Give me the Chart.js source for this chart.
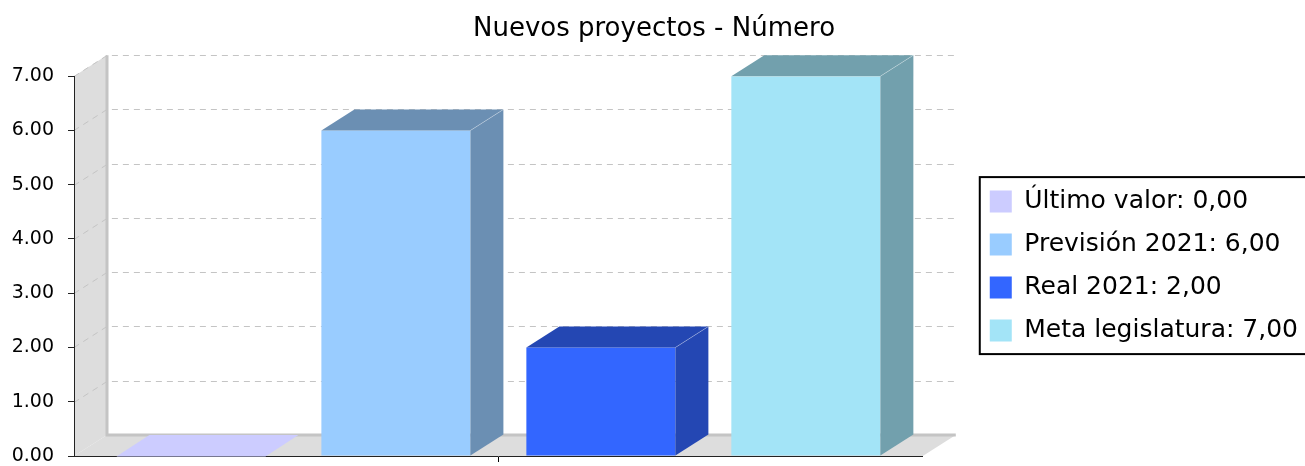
<!DOCTYPE html>
<html>
<head>
<meta charset="utf-8">
<script src="https://cdn.jsdelivr.net/npm/chart.js@4/dist/chart.umd.min.js"></script>
<style>
  html, body { margin: 0; padding: 0; background: #fff; }
  #caja { width: 1305px; height: 466px; }
</style>
</head>
<body>
<div id="caja"><canvas id="grafica"></canvas></div>
<script>
const titulo = "Nuevos proyectos - Número"
const categorias = [""]
const series = ["Último valor", "Previsión 2021", "Real 2021", "Meta legislatura"]
const valores = [0, 6, 2, 7]
const colores = ["#ccccff", "#99ccff", "#3366ff", "#a3e4f7"]
const ejeY = { min: 0, max: 7, paso: 1 }

// profundidad del efecto 3D
const dx = 33
const dy = 21

function oscurecer(hex, f) {
  let r = parseInt(hex.slice(1, 3), 16)
  let g = parseInt(hex.slice(3, 5), 16)
  let b = parseInt(hex.slice(5, 7), 16)
  return "rgb(" + Math.round(r * f) + "," + Math.round(g * f) + "," + Math.round(b * f) + ")"
}

function poligono(ctx, pts, color) {
  ctx.beginPath()
  ctx.moveTo(pts[0][0], pts[0][1])
  for (let i = 1; i < pts.length; i++) ctx.lineTo(pts[i][0], pts[i][1])
  ctx.closePath()
  ctx.fillStyle = color
  ctx.fill()
}

const efecto3d = {
  id: "efecto3d",
  beforeDraw(chart) {
    const ctx = chart.ctx
    const a = chart.chartArea
    const y = chart.scales.y
    const L = a.left, R = a.right, T = a.top, B = a.bottom
    ctx.save()
    // pared izquierda y suelo
    poligono(ctx, [[L, B], [L, T], [L + dx, T - dy], [L + dx, B - dy]], "#dddddd")
    poligono(ctx, [[L, B], [R, B], [R + dx, B - dy], [L + dx, B - dy]], "#dddddd")
    // rejilla punteada
    ctx.strokeStyle = "#c4c4c4"
    ctx.lineWidth = 1
    ctx.setLineDash([6, 5])
    y.ticks.forEach(t => {
      if (t.value === ejeY.min) return
      let py = Math.round(y.getPixelForValue(t.value)) + 0.5
      ctx.beginPath()
      ctx.moveTo(L, py)
      ctx.lineTo(L + dx, py - dy)
      ctx.lineTo(R + dx, py - dy)
      ctx.stroke()
    })
    ctx.setLineDash([])
    // bordes de las paredes
    ctx.strokeStyle = "#c4c4c4"
    ctx.lineWidth = 3
    ctx.beginPath()
    ctx.moveTo(L + dx, T - dy)
    ctx.lineTo(L + dx, B - dy)
    ctx.lineTo(R + dx, B - dy)
    ctx.stroke()
    ctx.restore()
  },
  afterDatasetsDraw(chart) {
    const ctx = chart.ctx
    ctx.save()
    chart.data.datasets.forEach((ds, i) => {
      const meta = chart.getDatasetMeta(i)
      meta.data.forEach(bar => {
        const p = bar.getProps(["x", "y", "base", "width"], true)
        const izq = p.x - p.width / 2
        const der = p.x + p.width / 2
        const arriba = Math.min(p.y, p.base)
        const abajo = Math.max(p.y, p.base)
        const base = ds.backgroundColor
        const sombra = oscurecer(base, 0.7)
        if (abajo - arriba < 1) {
          poligono(ctx, [[izq, abajo + 0.5], [der, abajo + 0.5], [der + dx, abajo - dy], [izq + dx, abajo - dy]], base)
          return
        }
        poligono(ctx, [[der, arriba], [der + dx, arriba - dy], [der + dx, abajo - dy], [der, abajo]], sombra)
        poligono(ctx, [[izq, arriba], [izq + dx, arriba - dy], [der + dx, arriba - dy], [der, arriba]], sombra)
        ctx.strokeStyle = "rgba(255,255,255,0.3)"
        ctx.lineWidth = 1
        ctx.beginPath()
        ctx.moveTo(der, arriba)
        ctx.lineTo(der + dx, arriba - dy)
        ctx.stroke()
      })
    })
    ctx.restore()
  },
  afterDraw(chart) {
    const cajas = chart.legend.legendHitBoxes
    if (!cajas || !cajas.length) return
    let x0 = Infinity, y0 = Infinity, x1 = -Infinity, y1 = -Infinity
    cajas.forEach(c => {
      x0 = Math.min(x0, c.left)
      y0 = Math.min(y0, c.top)
      x1 = Math.max(x1, c.left + c.width)
      y1 = Math.max(y1, c.top + c.height)
    })
    const ctx = chart.ctx
    ctx.save()
    ctx.strokeStyle = "#000"
    ctx.lineWidth = 2
    ctx.strokeRect(x0 - 10, y0 - 12, x1 - x0 + 30, y1 - y0 + 23)
    ctx.restore()
  }
}

const datasets = series.map((s, i) => ({
  label: s + ": " + valores[i].toFixed(2).replace(".", ","),
  data: [valores[i]],
  backgroundColor: colores[i],
  borderWidth: 0,
  categoryPercentage: 0.966,
  barPercentage: 0.727
}))

Chart.defaults.font.family = "'DejaVu Sans', sans-serif"
Chart.defaults.color = "#000"

new Chart(document.getElementById("grafica"), {
  type: "bar",
  data: { labels: categorias, datasets: datasets },
  options: {
    responsive: true,
    maintainAspectRatio: false,
    animation: false,
    layout: { padding: { left: 0, right: -3, top: 0, bottom: 4 } },
    plugins: {
      title: {
        display: true,
        text: titulo,
        color: "#000",
        font: { size: 26, weight: "normal" },
        padding: { top: 14, bottom: 31 }
      },
      legend: {
        position: "right",
        fullSize: false,
        maxWidth: 400,
        labels: {
          boxWidth: 22,
          boxHeight: 22,
          padding: 18,
          color: "#000",
          font: { size: 25 }
        }
      },
      tooltip: { enabled: false }
    },
    scales: {
      x: {
        offset: true,
        grid: { display: true, offset: false, drawOnChartArea: false, drawTicks: true, tickLength: 6, color: "#000" },
        border: { display: true, color: "#222", width: 1 },
        ticks: { display: false }
      },
      y: {
        min: ejeY.min,
        max: ejeY.max,
        grid: { drawOnChartArea: false, drawTicks: true, tickLength: 6, color: "#222" },
        border: { display: true, color: "#222", width: 1 },
        ticks: {
          stepSize: ejeY.paso,
          padding: 14,
          color: "#000",
          font: { size: 19 },
          callback: v => v.toFixed(2)
        },
        afterFit(s) {
          s.width = 74
          s.paddingTop = 0
          s.paddingBottom = 8
        }
      },
      relleno: {
        position: "right",
        display: true,
        grid: { display: false },
        border: { display: false },
        ticks: { display: false },
        afterFit(s) { s.width = 49 }
      }
    }
  },
  plugins: [efecto3d]
})
</script>
</body>
</html>
